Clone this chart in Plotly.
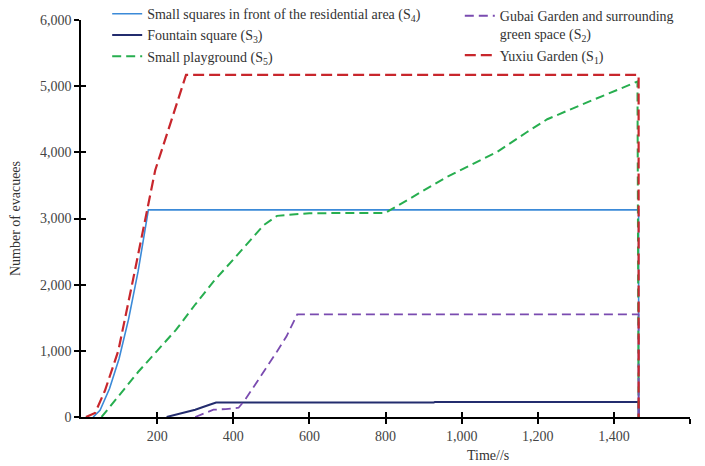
import plotly.graph_objects as go

# Time (s) and number of evacuees for each shelter
t_s4 = [32, 50, 75, 100, 125, 150, 177, 1465, 1465]
v_s4 = [0, 100, 430, 880, 1480, 2200, 3130, 3130, 0]

t_s3 = [225, 260, 300, 330, 355, 927, 930, 1465, 1465]
v_s3 = [0, 50, 110, 170, 220, 220, 228, 228, 0]

t_s5 = [54, 100, 150, 200, 250, 300, 350, 400, 445, 480, 515, 600, 800, 813, 962, 1094, 1170, 1225, 1313, 1462, 1465]
v_s5 = [0, 330, 680, 1000, 1320, 1700, 2060, 2380, 2680, 2900, 3040, 3080, 3085, 3130, 3630, 4010, 4300, 4500, 4715, 5070, 0]

t_s2 = [300, 320, 348, 380, 414, 430, 450, 471, 490, 515, 540, 568, 1465, 1465]
v_s2 = [0, 50, 110, 120, 140, 250, 420, 610, 760, 990, 1220, 1550, 1550, 0]

t_s1 = [13, 37, 63, 98, 133, 173, 195, 239, 276, 1465, 1465]
v_s1 = [0, 60, 400, 1000, 1970, 3130, 3730, 4510, 5170, 5170, 0]

names = {
    "s4": "Small squares in front of the residential area (S<sub>4</sub>)",
    "s3": "Fountain square (S<sub>3</sub>)",
    "s5": "Small playground (S<sub>5</sub>)",
    "s2": "Gubai Garden and surrounding<br>green space (S<sub>2</sub>)",
    "s1": "Yuxiu Garden (S<sub>1</sub>)",
}

x_ticks = [200, 400, 600, 800, 1000, 1200, 1400, 1600]
y_ticks = [0, 1000, 2000, 3000, 4000, 5000, 6000]

FONT = "Liberation Serif"
FS = 14

fig = go.Figure()
fig.add_trace(go.Scatter(x=t_s4, y=v_s4, mode="lines", name=names["s4"],
                         line=dict(color="#3b8ad8", width=1.6), legend="legend"))
fig.add_trace(go.Scatter(x=t_s3, y=v_s3, mode="lines", name=names["s3"],
                         line=dict(color="#232c6e", width=2), legend="legend"))
fig.add_trace(go.Scatter(x=t_s5, y=v_s5, mode="lines", name=names["s5"],
                         line=dict(color="#27ae4f", width=2, dash="9px,5px"), legend="legend"))
fig.add_trace(go.Scatter(x=t_s2, y=v_s2, mode="lines", name=names["s2"],
                         line=dict(color="#7a4bb0", width=1.8, dash="9px,5px"), legend="legend2"))
fig.add_trace(go.Scatter(x=t_s1, y=v_s1, mode="lines", name=names["s1"],
                         line=dict(color="#c8262c", width=2.2, dash="11px,5px"), legend="legend2"))
# invisible trace for the overlay axes (inside tick marks)
fig.add_trace(go.Scatter(x=[0], y=[0], xaxis="x2", yaxis="y2", mode="markers",
                         marker=dict(opacity=0), showlegend=False, hoverinfo="skip"))

axis_common = dict(showgrid=False, zeroline=False, ticks="outside", ticklen=5,
                   tickwidth=1.5, tickcolor="black", showline=True, linecolor="black",
                   linewidth=1.5, automargin=False,
                   tickfont=dict(family=FONT, size=FS, color="#444"))

fig.update_layout(
    width=705, height=466,
    margin=dict(l=81, r=15, t=20, b=49, autoexpand=False),
    paper_bgcolor="white", plot_bgcolor="white",
    font=dict(family=FONT, size=FS, color="#333"),
    xaxis=dict(range=[0, 1600], tickvals=x_ticks, tickformat=",d", **axis_common),
    yaxis=dict(range=[0, 6000], tickvals=y_ticks, tickformat=",d",
               title=dict(text="Number of evacuees", font=dict(family=FONT, size=FS, color="#333"), standoff=16),
               **axis_common),
    xaxis2=dict(range=[0, 1600], tickvals=x_ticks, overlaying="x", anchor="y",
                showticklabels=False, ticks="inside", ticklen=5, tickwidth=1.5,
                tickcolor="black", showgrid=False, zeroline=False, showline=False, automargin=False),
    yaxis2=dict(range=[0, 6000], tickvals=y_ticks, overlaying="y", anchor="x",
                showticklabels=False, ticks="inside", ticklen=5, tickwidth=1.5,
                tickcolor="black", showgrid=False, zeroline=False, showline=False, automargin=False),
    legend=dict(x=0.043, y=1.055, xanchor="left", yanchor="top", bgcolor="rgba(0,0,0,0)",
                font=dict(family=FONT, size=FS, color="#333"), tracegroupgap=0, itemwidth=30),
    legend2=dict(x=0.622, y=1.05, xanchor="left", yanchor="top", bgcolor="rgba(0,0,0,0)",
                 valign="top",
                 font=dict(family=FONT, size=FS, color="#333"), tracegroupgap=0, itemwidth=30),
    annotations=[dict(text="Time//s", x=(488 - 81) / 609, y=-(456 - 417) / 398,
                      xref="paper", yref="paper", xanchor="center", yanchor="middle",
                      showarrow=False, font=dict(family=FONT, size=FS, color="#333"))],
    showlegend=True,
)

fig.write_html("out.html", config={"displayModeBar": False},
               post_script="document.body.style.margin='0';document.body.style.overflow='hidden';")
